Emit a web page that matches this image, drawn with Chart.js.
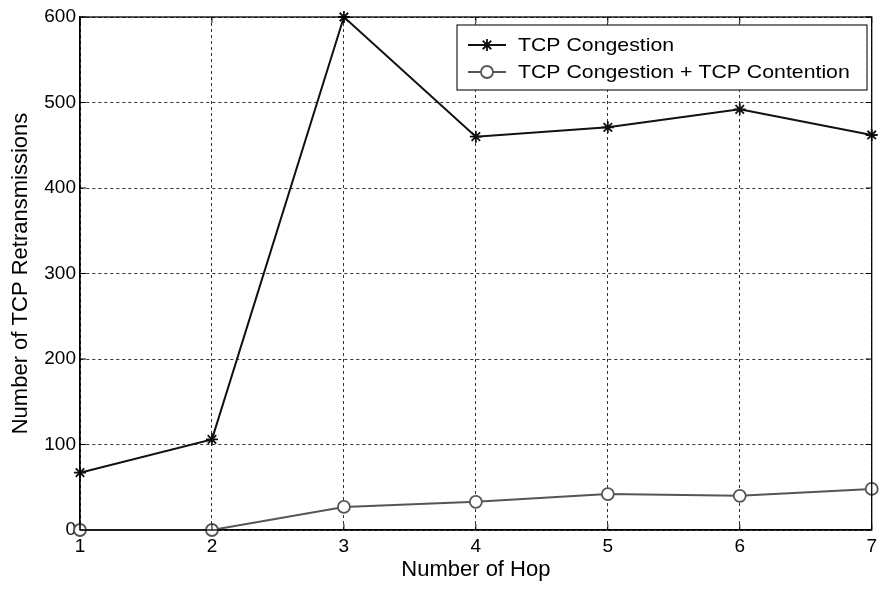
<!DOCTYPE html>
<html><head><meta charset="utf-8">
<script src="https://cdn.jsdelivr.net/npm/chart.js@4"></script>
<style>html,body{margin:0;padding:0;background:#fff}#wrap{width:882px;height:590px}</style>
</head><body><div id="wrap"><canvas id="c" width="882" height="590"></canvas></div>
<script>
const hops = [1, 2, 3, 4, 5, 6, 7];
const congestion = [67, 106, 600, 460, 471, 492, 462];
const congestionContention = [0, 0, 27, 33, 42, 40, 48];
const seriesNames = ['TCP Congestion', 'TCP Congestion + TCP Contention'];
const xTitle = 'Number of Hop';
const yTitle = 'Number of TCP Retransmissions';

const FONT = '"Liberation Sans", Arial, Helvetica, sans-serif';

const frame = {
  id: 'frame',
  afterDatasetsDraw(chart) {
    const {ctx, chartArea: a, scales} = chart;
    ctx.save();
    ctx.strokeStyle = '#000';
    ctx.lineWidth = 1.3;
    ctx.setLineDash([]);
    ctx.strokeRect(a.left, a.top, a.right - a.left, a.bottom - a.top);
    // inward tick marks (MATLAB style)
    const L = 6;
    ctx.lineWidth = 1;
    ctx.beginPath();
    scales.x.ticks.forEach(t => {
      const px = scales.x.getPixelForValue(t.value);
      ctx.moveTo(px, a.bottom); ctx.lineTo(px, a.bottom - L);
      ctx.moveTo(px, a.top); ctx.lineTo(px, a.top + L);
    });
    scales.y.ticks.forEach(t => {
      const py = scales.y.getPixelForValue(t.value);
      ctx.moveTo(a.left, py); ctx.lineTo(a.left + L, py);
      ctx.moveTo(a.right, py); ctx.lineTo(a.right - L, py);
    });
    ctx.stroke();
    // legend box
    const x0 = 457, y0 = 25, x1 = 867, y1 = 90;
    ctx.fillStyle = '#fff';
    ctx.fillRect(x0, y0, x1 - x0, y1 - y0);
    ctx.lineWidth = 1.2;
    ctx.strokeStyle = '#222';
    ctx.strokeRect(x0, y0, x1 - x0, y1 - y0);
    const rows = [45, 72];
    chart.data.datasets.forEach((ds, i) => {
      const y = rows[i];
      ctx.strokeStyle = ds.borderColor;
      ctx.lineWidth = ds.borderWidth;
      ctx.beginPath(); ctx.moveTo(468, y); ctx.lineTo(506, y); ctx.stroke();
      ctx.fillStyle = ds.pointBackgroundColor;
      ctx.strokeStyle = ds.pointBorderColor;
      ctx.lineWidth = ds.pointBorderWidth;
      Chart.helpers.drawPoint(ctx, {pointStyle: ds.pointStyle, radius: ds.pointRadius, borderWidth: ds.pointBorderWidth}, 487, y);
      ctx.fillStyle = '#000';
      ctx.font = '19px ' + FONT;
      ctx.textBaseline = 'middle';
      ctx.textAlign = 'left';
      ctx.save();
      ctx.translate(518, y + 1);
      ctx.scale(1.12, 1);
      ctx.fillText(ds.label, 0, 0);
      ctx.restore();
    });
    ctx.restore();
  }
};

new Chart(document.getElementById('c'), {
  type: 'line',
  data: {
    datasets: [
      {
        label: seriesNames[0],
        data: hops.map((h, i) => ({x: h, y: congestion[i]})),
        borderColor: '#111', borderWidth: 2,
        pointStyle: 'star', pointRadius: 6, pointBorderWidth: 1.8,
        pointBorderColor: '#111', pointBackgroundColor: '#111',
        tension: 0, clip: false
      },
      {
        label: seriesNames[1],
        data: hops.map((h, i) => ({x: h, y: congestionContention[i]})),
        borderColor: '#555', borderWidth: 2,
        pointStyle: 'circle', pointRadius: 6, pointBorderWidth: 1.8,
        pointBorderColor: '#555', pointBackgroundColor: '#fff',
        tension: 0, clip: false
      }
    ]
  },
  options: {
    responsive: false,
    animation: false,
    layout: {padding: {left: 0, right: 7, top: 17, bottom: 0}},
    plugins: {legend: {display: false}, tooltip: {enabled: false}},
    scales: {
      x: {
        type: 'linear', min: 1, max: 7,
        afterFit(s) { s.height = 60; },
        border: {display: true, color: '#000', width: 1.3, dash: [3, 3]},
        grid: {color: '#333', lineWidth: 1, drawTicks: false},
        ticks: {stepSize: 1, padding: 5, color: '#000', font: {family: FONT, size: 19}},
        title: {display: true, text: xTitle, color: '#000', font: {family: FONT, size: 22}, padding: {top: 0, bottom: 7}}
      },
      y: {
        min: 0, max: 600,
        afterFit(s) { s.width = 80; },
        border: {display: true, color: '#000', width: 1.3, dash: [3, 3]},
        grid: {color: '#333', lineWidth: 1, drawTicks: false},
        ticks: {stepSize: 100, padding: 4, color: '#000', font: {family: FONT, size: 19}},
        title: {display: true, text: yTitle, color: '#000', font: {family: FONT, size: 22}, padding: {top: 8, bottom: 0}}
      }
    }
  },
  plugins: [frame]
});
</script>
</body></html>
